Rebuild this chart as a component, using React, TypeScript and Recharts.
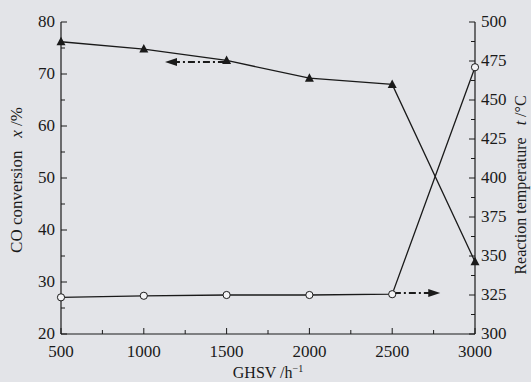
import React from 'react';
import { ComposedChart, Line, XAxis, YAxis, ReferenceLine } from 'recharts';

const ghsv = [500, 1000, 1500, 2000, 2500, 3000];
const coConversion = [76.2, 74.8, 72.6, 69.2, 68.0, 33.9];
const reactionTemp = [323.5, 324.5, 325, 325, 325.5, 471];

const xTicks = [500, 750, 1000, 1250, 1500, 1750, 2000, 2250, 2500, 2750, 3000];
const leftTicks = [20, 25, 30, 35, 40, 45, 50, 55, 60, 65, 70, 75, 80];
const rightTicks = [300, 312.5, 325, 337.5, 350, 362.5, 375, 387.5, 400, 412.5, 425, 437.5, 450, 462.5, 475, 487.5, 500];

const data = ghsv.map((g, i) => ({ ghsv: g, conv: coConversion[i], temp: reactionTemp[i] }));

const FONT = '"Liberation Serif", "DejaVu Serif", serif';
const INK = '#1a1a1a';

const Triangle = (props: any) => {
  const { cx, cy } = props;
  if (cx == null || cy == null) return null;
  return <path d={`M${cx},${cy - 5} L${cx + 4.5},${cy + 3.5} L${cx - 4.5},${cy + 3.5} Z`} fill={INK} />;
};

const Circle = (props: any) => {
  const { cx, cy } = props;
  if (cx == null || cy == null) return null;
  return <circle cx={cx} cy={cy} r={3.6} fill="#f4f4f6" stroke={INK} strokeWidth={1} />;
};

const XTick = (props: any) => {
  const { x, y, payload } = props;
  const v = payload.value;
  const major = v % 500 === 0;
  return (
    <g>
      <line x1={x} x2={x} y1={334} y2={334 - (major ? 6 : 4)} stroke={INK} strokeWidth={1} />
      {major && (
        <text x={x} y={y + 17} textAnchor="middle" fontFamily={FONT} fontSize={17} fill={INK}>{v}</text>
      )}
    </g>
  );
};

const LeftTick = (props: any) => {
  const { x, y, payload } = props;
  const v = payload.value;
  const major = v % 10 === 0;
  return (
    <g>
      <line x1={61} x2={61 + (major ? 6 : 4)} y1={y} y2={y} stroke={INK} strokeWidth={1} />
      {major && (
        <text x={x} y={y + 5} textAnchor="end" fontFamily={FONT} fontSize={17} fill={INK}>{v}</text>
      )}
    </g>
  );
};

const RightTick = (props: any) => {
  const { x, y, payload } = props;
  const v = payload.value;
  const major = v % 25 === 0;
  return (
    <g>
      <line x1={475} x2={475 - (major ? 6 : 4)} y1={y} y2={y} stroke={INK} strokeWidth={1} />
      {major && (
        <text x={x} y={y + 5} textAnchor="start" fontFamily={FONT} fontSize={17} fill={INK}>{v}</text>
      )}
    </g>
  );
};

const DashArrow = (props: any) => {
  const { x1, y1, x2, y2 } = props;
  const dir = x2 > x1 ? 1 : -1;
  return (
    <g>
      <line x1={x1} y1={y1} x2={x2 - dir * 8} y2={y2} stroke={INK} strokeWidth={2} strokeDasharray="7 3 2 3" />
      <path d={`M${x2},${y2} L${x2 - dir * 12},${y2 - 4} L${x2 - dir * 12},${y2 + 4} Z`} fill={INK} />
    </g>
  );
};

export default function App() {
  return (
    <div style={{ position: 'fixed', left: 0, top: 0, width: 531, height: 382, background: '#e3e4e8' }}>
      <ComposedChart width={531} height={382} data={data} margin={{ top: 22, right: 0, bottom: 0, left: 0 }}>
        <XAxis
          dataKey="ghsv"
          type="number"
          domain={[500, 3000]}
          ticks={xTicks}
          interval={0}
          height={48}
          tickLine={false}
          tickSize={0}
          tickMargin={6}
          axisLine={{ stroke: INK, strokeWidth: 1.2 }}
          tick={<XTick />}
          label={{
            content: () => (
              <text x={268} y={378} textAnchor="middle" fontFamily={FONT} fontSize={16} fill={INK}>
                GHSV /h<tspan dy={-6} fontSize={10}>−1</tspan>
              </text>
            ),
          }}
        />
        <XAxis xAxisId="top" orientation="top" dataKey="ghsv" type="number" domain={[500, 3000]} height={0} tick={false} tickLine={false} axisLine={{ stroke: INK, strokeWidth: 1.2 }} />
        <YAxis
          yAxisId="left"
          domain={[20, 80]}
          ticks={leftTicks}
          interval={0}
          width={61}
          tickLine={false}
          tickSize={0}
          tickMargin={6}
          axisLine={{ stroke: INK, strokeWidth: 1.2 }}
          tick={<LeftTick />}
          label={{
            content: () => (
              <text transform="translate(22,180) rotate(-90)" textAnchor="middle" fontFamily={FONT} fontSize={17} fill={INK}>
                CO conversion{'\u00a0\u00a0\u00a0'}<tspan fontStyle="italic">x</tspan> /%
              </text>
            ),
          }}
        />
        <YAxis
          yAxisId="right"
          orientation="right"
          domain={[300, 500]}
          ticks={rightTicks}
          interval={0}
          width={56}
          tickLine={false}
          tickSize={0}
          tickMargin={6}
          axisLine={{ stroke: INK, strokeWidth: 1.2 }}
          tick={<RightTick />}
          label={{
            content: () => (
              <text transform="translate(526,185) rotate(-90)" textAnchor="middle" fontFamily={FONT} fontSize={16} fill={INK}>
                Reaction temperature{'\u00a0\u00a0\u00a0'}<tspan fontStyle="italic">t</tspan> /°C
              </text>
            ),
          }}
        />
        <ReferenceLine
          yAxisId="left"
          segment={[{ x: 1490, y: 72.3 }, { x: 1128, y: 72.3 }]}
          shape={<DashArrow />}
          ifOverflow="visible"
        />
        <ReferenceLine
          yAxisId="left"
          segment={[{ x: 2510, y: 27.9 }, { x: 2790, y: 27.9 }]}
          shape={<DashArrow />}
          ifOverflow="visible"
        />
        <Line yAxisId="left" dataKey="conv" type="linear" stroke={INK} strokeWidth={1.3} dot={<Triangle />} activeDot={false} isAnimationActive={false} />
        <Line yAxisId="right" dataKey="temp" type="linear" stroke={INK} strokeWidth={1.3} dot={<Circle />} activeDot={false} isAnimationActive={false} />
      </ComposedChart>
    </div>
  );
}
